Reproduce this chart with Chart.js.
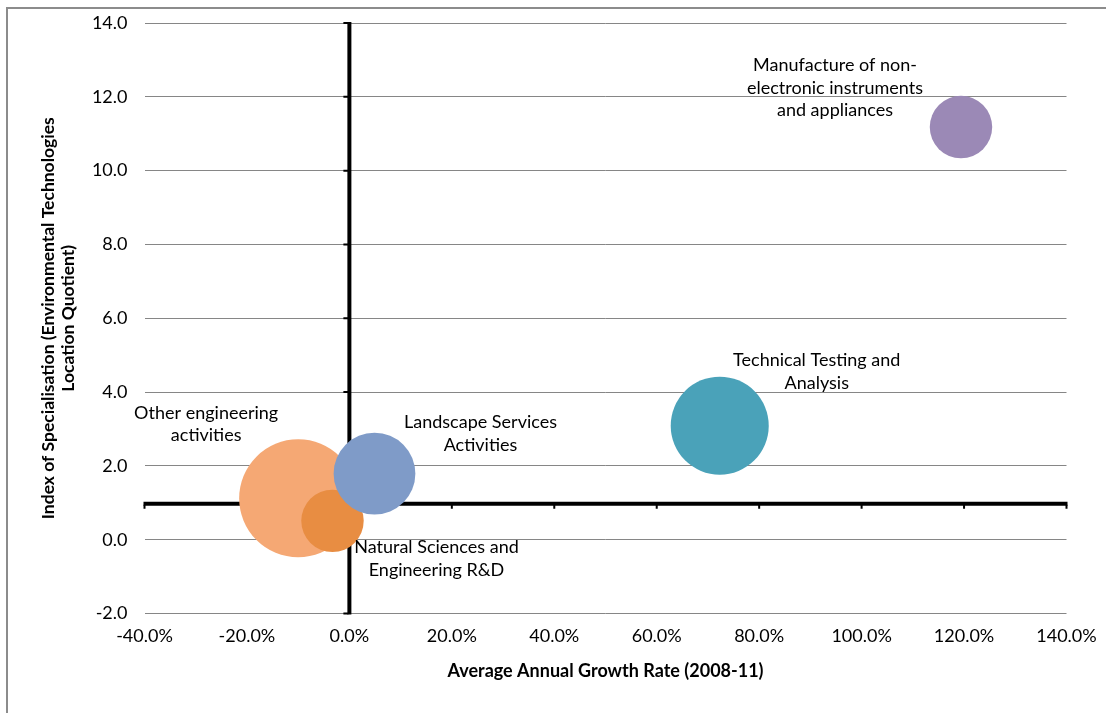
<!DOCTYPE html>
<html>
<head>
<meta charset="utf-8">
<script src="https://cdn.jsdelivr.net/npm/chart.js@4/dist/chart.umd.min.js"></script>
<style>
  html, body { margin: 0; padding: 0; background: #fff; }
  #wrap { width: 1106px; height: 713px; position: relative; }
</style>
</head>
<body>
<div id="wrap"><canvas id="chart" width="1106" height="713"></canvas></div>
<script>
// Sectors (label lines for each bubble)
const sectors = [
  ['Other engineering', 'activities'],
  ['Natural Sciences and', 'Engineering R&D'],
  ['Landscape Services', 'Activities'],
  ['Technical Testing and', 'Analysis'],
  ['Manufacture of non-', 'electronic instruments', 'and appliances']
];
// Average annual growth rate 2008-11 (as a fraction)
const growthRate = [-0.100, -0.033, 0.049, 0.723, 1.194];
// Environmental technologies location quotient
const locationQuotient = [1.12, 0.51, 1.79, 3.09, 11.18];
// Relative bubble size
const bubbleSize = [100, 28, 48, 69, 28];

// Axis ticks
const xTicks = [-0.4, -0.2, 0, 0.2, 0.4, 0.6, 0.8, 1.0, 1.2, 1.4];
const yTicks = [-2, 0, 2, 4, 6, 8, 10, 12, 14];

// Styling
const bubbleColors = ['#F5A874', '#E88D42', '#7F9BC8', '#4AA2B9', '#9B89B6'];
const labelOffsets = [[-92, -74], [104, 38], [106, -40], [97, -54], [-126, -39]];
const MAX_RADIUS = 59;
const FONT = 'Lato, "Open Sans", sans-serif';

const maxSize = Math.max(...bubbleSize);
const points = growthRate.map((gx, i) => ({
  x: gx,
  y: locationQuotient[i],
  r: MAX_RADIUS * Math.sqrt(bubbleSize[i] / maxSize)
}));

// Keep the plot area fixed: no extra edge padding from tick labels
function fixScale(s, size) {
  if (s.isHorizontal()) s.height = size; else s.width = size;
  s.paddingTop = 0;
  s.paddingBottom = 0;
  s.paddingLeft = 0;
  s.paddingRight = 0;
}

// Outer frame and the two crossing axes (x = 0, y = 1)
const crossAxes = {
  id: 'crossAxes',
  beforeDraw(chart) {
    const ctx = chart.ctx;
    ctx.save();
    ctx.fillStyle = '#fff';
    ctx.fillRect(0, 0, chart.width, chart.height);
    ctx.strokeStyle = '#8C8C8C';
    ctx.lineWidth = 2;
    ctx.strokeRect(7, 8, chart.width + 20, chart.height + 20);
    ctx.restore();
  },
  beforeDatasetsDraw(chart) {
    const { ctx, scales: { x, y } } = chart;
    const x0 = x.getPixelForValue(0);
    const y1 = y.getPixelForValue(1);
    const yTop = y.getPixelForValue(yTicks[yTicks.length - 1]);
    const yBot = y.getPixelForValue(yTicks[0]);
    const xL = x.getPixelForValue(xTicks[0]);
    const xR = x.getPixelForValue(xTicks[xTicks.length - 1]);
    ctx.save();
    ctx.strokeStyle = '#000';
    ctx.lineWidth = 4;
    ctx.beginPath();
    ctx.moveTo(x0, yTop - 1);
    ctx.lineTo(x0, yBot + 1);
    ctx.moveTo(xL - 1, y1 + 1);
    ctx.lineTo(xR + 1, y1 + 1);
    ctx.stroke();
    ctx.lineWidth = 2;
    ctx.beginPath();
    yTicks.forEach(v => {
      const py = y.getPixelForValue(v);
      ctx.moveTo(x0 - 1, py);
      ctx.lineTo(x0 - 6, py);
    });
    xTicks.forEach(v => {
      const px = x.getPixelForValue(v);
      ctx.moveTo(px, y1 + 2);
      ctx.lineTo(px, y1 + 6);
    });
    ctx.stroke();
    ctx.restore();
  }
};

// Sector names beside each bubble
const bubbleLabels = {
  id: 'bubbleLabels',
  afterDatasetsDraw(chart) {
    const ctx = chart.ctx;
    const meta = chart.getDatasetMeta(0);
    const lineH = 22.5;
    ctx.save();
    ctx.fillStyle = '#000';
    ctx.font = '18px ' + FONT;
    ctx.textAlign = 'center';
    ctx.textBaseline = 'middle';
    meta.data.forEach((el, i) => {
      const lines = sectors[i];
      const cx = el.x + labelOffsets[i][0];
      const cy = el.y + labelOffsets[i][1];
      const start = cy - (lines.length - 1) * lineH / 2;
      lines.forEach((t, k) => ctx.fillText(t, cx, start + k * lineH));
    });
    ctx.restore();
  }
};

new Chart(document.getElementById('chart'), {
  type: 'bubble',
  data: {
    datasets: [{
      data: points,
      backgroundColor: bubbleColors,
      borderWidth: 0,
      hoverBorderWidth: 0
    }]
  },
  options: {
    responsive: false,
    animation: false,
    events: [],
    layout: { autoPadding: false, padding: { left: 0, top: 23, right: 39.5, bottom: 0 } },
    plugins: { legend: { display: false }, tooltip: { enabled: false } },
    scales: {
      x: {
        type: 'linear',
        min: xTicks[0],
        max: xTicks[xTicks.length - 1],
        afterBuildTicks: s => { s.ticks = xTicks.map(v => ({ value: v })); },
        afterFit: s => fixScale(s, 99.5),
        grid: { display: false, drawTicks: false },
        border: { display: false },
        ticks: {
          padding: 12,
          color: '#000',
          autoSkip: false,
          maxRotation: 0,
          font: { family: FONT, size: 18 },
          callback: v => (v * 100).toFixed(1) + '%'
        },
        title: {
          display: true,
          text: 'Average Annual Growth Rate (2008-11)',
          color: '#000',
          font: { family: FONT, size: 18, weight: 'bold', lineHeight: 1.2 },
          padding: { top: 0, bottom: 31 }
        }
      },
      y: {
        type: 'linear',
        min: yTicks[0],
        max: yTicks[yTicks.length - 1],
        afterBuildTicks: s => { s.ticks = yTicks.map(v => ({ value: v })); },
        afterFit: s => fixScale(s, 144.5),
        grid: { color: '#868686', lineWidth: 1, drawTicks: false },
        border: { display: false },
        ticks: {
          padding: 17,
          color: '#000',
          font: { family: FONT, size: 18 },
          callback: v => v.toFixed(1)
        },
        title: {
          display: true,
          text: ['Index of Specialisation (Environmental Technologies', 'Location Quotient)'],
          color: '#000',
          font: { family: FONT, size: 17.5, weight: 'bold', lineHeight: '20px' },
          padding: { top: 38, bottom: 0 }
        }
      }
    }
  },
  plugins: [crossAxes, bubbleLabels]
});
</script>
</body>
</html>
